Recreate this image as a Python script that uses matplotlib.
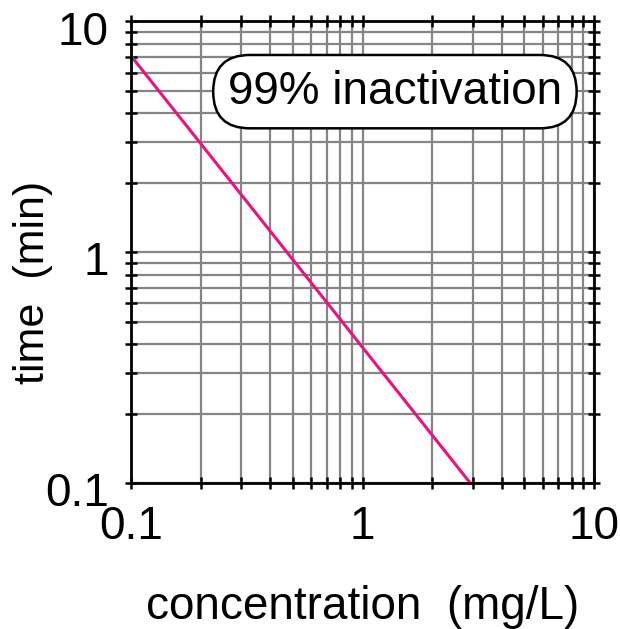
import matplotlib
matplotlib.use('Agg')
import matplotlib.pyplot as plt
import matplotlib.transforms as mtransforms
from matplotlib.ticker import LogLocator, NullFormatter, FixedLocator, FixedFormatter

plt.rcParams['font.family'] = ['Liberation Sans', 'DejaVu Sans']

# data: 99% inactivation line (concentration mg/L, time min)
conc = [0.1, 2.92]
time_min = [7.1, 0.1]
major_vals = [0.1, 1, 10]
major_labels = ['0.1', '1', '10']

FS = 33

fig = plt.figure(figsize=(6.2, 6.29), dpi=100)
ax = fig.add_axes([131/620, 1 - 483/629, 463/620, 461.5/629])

ax.plot(conc, time_min, color='#e8137f', lw=2.2, solid_capstyle='butt', zorder=3)

ax.set_xscale('log')
ax.set_yscale('log')
ax.set_xlim(0.1, 10)
ax.set_ylim(0.1, 10)

for axis in (ax.xaxis, ax.yaxis):
    axis.set_major_locator(FixedLocator(major_vals))
    axis.set_major_formatter(FixedFormatter(major_labels))
    axis.set_minor_locator(LogLocator(base=10, subs=range(2, 10)))
    axis.set_minor_formatter(NullFormatter())

ax.grid(which='both', color='#858585', lw=1.6, zorder=1)
for s in ax.spines.values():
    s.set_linewidth(2)
    s.set_zorder(4)

ax.tick_params(which='both', direction='inout', top=True, right=True,
               length=8, width=1.8, labelsize=FS)
ax.tick_params(axis='x', which='both', pad=12)
ax.tick_params(axis='y', which='both', pad=12)

# nudge y tick labels down a bit like the reference
off = mtransforms.ScaledTranslation(0, -4.5/72, fig.dpi_scale_trans)
for lab in ax.yaxis.get_majorticklabels():
    lab.set_transform(lab.get_transform() + off)

ax.set_xlabel('concentration  (mg/L)', fontsize=FS, labelpad=26)
ax.set_ylabel('time  (min)', fontsize=31, va='center', ha='center')
ax.yaxis.set_label_coords((33 - 131) / 463, (483 - 282) / 461.5)

ax.text(0.57, 0.848, '99% inactivation', transform=ax.transAxes, fontsize=FS,
        ha='center', va='center', zorder=5,
        bbox=dict(boxstyle='round,pad=0.32,rounding_size=0.8', fc='white',
                  ec='black', lw=1.8))

fig.savefig('out.png', dpi=100)
